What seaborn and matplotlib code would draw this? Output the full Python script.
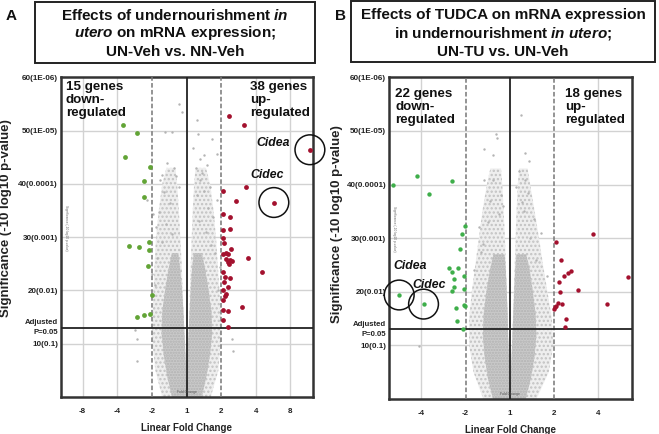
import matplotlib
matplotlib.use("Agg")
import matplotlib.pyplot as plt
import numpy as np
import pandas as pd
import seaborn as sns
from matplotlib.patches import Rectangle

# x positions are log2 fold change; tick labels show the signed linear fold change
A_TICKS = [-3, -2, -1, 0, 1, 2, 3]
A_TICK_LABELS = ["-8", "-4", "-2", "1", "2", "4", "8"]
B_TICKS = [-2, -1, 0, 1, 2]
B_TICK_LABELS = ["-4", "-2", "1", "2", "4"]
Y_TICKS = [10, 20, 30, 40, 50, 60]
Y_TICK_LABELS = ["10(0.1)", "20(0.01)", "30(0.001)", "40(0.0001)", "50(1E-05)", "60(1E-06)"]
ADJ_P = 13.01  # -10 log10(0.05)

# panel A: significant genes
A_down_fc = [-1.83, -1.42, -1.78, -1.04, -1.23, -1.23, -1.67, -1.37, -1.07, -1.07,
             -1.12, -1.01, -1.44, -1.23, -1.05]
A_down_sig = [51.0, 49.5, 45.1, 43.1, 40.6, 37.5, 28.4, 28.2, 29.0, 27.6,
              24.6, 19.1, 15.1, 15.3, 15.5]
A_up_fc = [1.23, 1.66, 3.56, 1.73, 2.52, 1.04, 1.44, 1.06, 1.25, 1.04,
           1.25, 1.04, 1.08, 1.28, 1.04, 1.13, 1.21, 1.78, 1.13, 1.25,
           1.31, 1.19, 1.23, 1.04, 2.19, 1.12, 1.25, 1.08, 1.19, 1.15,
           1.06, 1.61, 1.04, 1.19, 1.06, 1.21, 1.12, 1.04]
A_up_sig = [52.8, 51.0, 46.4, 39.5, 36.5, 38.7, 36.7, 34.4, 33.7, 31.4,
            31.5, 29.9, 28.9, 27.8, 26.8, 27.0, 26.9, 26.1, 25.9, 25.8,
            25.6, 25.3, 25.0, 23.4, 23.4, 22.6, 22.3, 21.6, 20.6, 19.4,
            18.2, 16.9, 16.4, 16.1, 14.4, 13.2, 19.0, 20.0]
A_circled = ["Cidea", "Cidec"]
A_circled_fc = [3.56, 2.52]
A_circled_sig = [46.4, 36.5]

# panel A: non-significant genes, scattered ones
A_grey_fc = [-0.21, -0.13, 0.29, -0.61, -0.41, 0.34, 0.74, 0.87, 0.50, 0.40,
             0.59, -0.35, -0.72, -0.76, 0.27, -0.23, 0.38, 0.67, 0.50, -1.15,
             0.87, -1.49, -1.42, -1.44, 1.31, 1.35, -0.96, -0.88, 0.77, -1.00,
             0.96, -0.55, -0.30, 0.18, 0.45, -0.66, 0.62, -0.48, 0.30, -0.80,
             -0.58, -0.42, -0.70, 0.55, 0.70, 0.35, -0.85, 0.82, -0.92, 0.90]
A_grey_sig = [54.9, 53.5, 51.9, 49.7, 49.8, 49.3, 48.4, 45.6, 45.5, 44.6,
              43.6, 43.0, 41.6, 40.8, 43.0, 39.4, 40.7, 39.4, 38.6, 36.9,
              36.9, 12.5, 10.9, 6.8, 10.9, 8.7, 34.3, 31.9, 33.8, 23.1,
              24.4, 44.0, 41.5, 46.8, 42.0, 38.5, 35.5, 36.5, 38.0, 34.8,
              32.5, 30.5, 29.0, 31.0, 28.5, 33.0, 26.0, 27.0, 21.0, 20.0]
# panel A: outline of the grey cloud (sig level, lobe edges)
A_core_sig = [0, 4, 8, 12, 16, 20, 24, 27]
A_core_left_out = [-0.42, -0.56, -0.66, -0.72, -0.70, -0.62, -0.52, -0.42]
A_core_left_in = [0.00, -0.01, -0.03, -0.06, -0.09, -0.13, -0.18, -0.24]
A_core_right_in = [0.00, 0.01, 0.03, 0.06, 0.09, 0.12, 0.16, 0.21]
A_core_right_out = [0.44, 0.58, 0.68, 0.74, 0.72, 0.64, 0.54, 0.44]
A_halo_sig = [0, 5, 10, 15, 20, 25, 30, 35, 40, 43]
A_halo_left_out = [-0.70, -0.90, -0.98, -0.98, -0.95, -0.92, -0.88, -0.80, -0.70, -0.58]
A_halo_left_in = [0.00, -0.02, -0.05, -0.08, -0.11, -0.14, -0.18, -0.22, -0.27, -0.32]
A_halo_right_in = [0.00, 0.02, 0.05, 0.08, 0.10, 0.12, 0.15, 0.18, 0.22, 0.26]
A_halo_right_out = [0.70, 0.92, 0.98, 0.98, 0.95, 0.90, 0.85, 0.78, 0.68, 0.56]

# panel B: significant genes
B_down_fc = [-2.63, -2.09, -1.83, -1.31, -1.01, -1.08, -1.13, -1.38, -1.18, -1.30,
             -1.04, -1.26, -1.26, -1.04, -1.31, -2.50, -1.95, -1.04, -1.22, -1.01,
             -1.20, -1.05]
B_down_sig = [39.9, 41.6, 38.2, 40.6, 32.3, 30.8, 28.0, 24.5, 24.4, 23.7,
              22.9, 22.3, 20.9, 20.6, 20.1, 19.4, 17.7, 17.6, 16.9, 17.3,
              14.6, 13.1]
B_up_fc = [1.04, 1.88, 1.16, 1.38, 1.31, 1.23, 1.11, 2.66, 1.13, 1.54,
           1.08, 1.17, 2.20, 1.02, 1.00, 1.04, 1.26, 1.24]
B_up_sig = [29.3, 30.7, 26.0, 23.9, 23.5, 22.9, 21.8, 22.7, 19.9, 20.3,
            18.0, 17.7, 17.8, 17.1, 16.7, 17.4, 14.9, 13.5]
B_circled = ["Cidea", "Cidec"]
B_circled_fc = [-2.50, -1.95]
B_circled_sig = [19.4, 17.7]

B_grey_fc = [0.25, -0.32, -0.58, -0.38, 0.35, 0.43, -0.38, -0.58, 0.35, -0.20,
             -2.05, -0.30, 0.20, -0.45, 0.40, -0.15, 0.28, -0.25, 0.55, -0.70,
             0.70, -0.60, 0.15, 0.32, -0.50, 0.45, -0.80, 0.85, 0.60, -0.65]
B_grey_sig = [53.0, 49.4, 46.6, 45.5, 45.8, 44.3, 40.9, 40.9, 40.9, 38.0,
              9.9, 48.6, 42.5, 37.0, 38.5, 36.0, 36.8, 34.5, 33.5, 32.0,
              31.0, 29.0, 39.5, 35.0, 33.0, 30.0, 24.0, 23.0, 26.0, 27.5]
B_core_sig = [0, 4, 8, 12, 16, 20, 24, 27]
B_core_left_out = [-0.38, -0.50, -0.57, -0.61, -0.59, -0.53, -0.45, -0.37]
B_core_left_in = [0.00, -0.01, -0.02, -0.04, -0.05, -0.07, -0.09, -0.12]
B_core_right_in = [0.00, 0.02, 0.04, 0.06, 0.08, 0.10, 0.12, 0.15]
B_core_right_out = [0.36, 0.48, 0.56, 0.60, 0.58, 0.52, 0.45, 0.37]
B_halo_sig = [0, 5, 10, 15, 20, 25, 30, 35, 40, 43]
B_halo_left_out = [-0.60, -0.82, -0.92, -0.92, -0.86, -0.78, -0.70, -0.62, -0.52, -0.44]
B_halo_left_in = [0.00, -0.02, -0.03, -0.05, -0.07, -0.09, -0.11, -0.14, -0.17, -0.20]
B_halo_right_in = [0.00, 0.03, 0.05, 0.07, 0.09, 0.11, 0.13, 0.15, 0.18, 0.21]
B_halo_right_out = [0.60, 0.88, 0.98, 0.95, 0.85, 0.75, 0.66, 0.56, 0.46, 0.40]

RED = "#a3112e"
GRID = "#d2d2d2"
FONT = ["Liberation Sans", "DejaVu Sans"]

sns.set_theme(style="white")
plt.rcParams["font.family"] = FONT
plt.rcParams["mathtext.fontset"] = "custom"
plt.rcParams["mathtext.bf"] = "Liberation Sans:bold"
plt.rcParams["mathtext.it"] = "Liberation Sans:italic"
plt.rcParams["mathtext.bfit"] = "Liberation Sans:bold:italic"
plt.rcParams["hatch.linewidth"] = 1.1


def draw_cloud(ax, core, halo):
    sig, l_out, l_in, r_in, r_out = halo
    for lo, hi in [(l_out, l_in), (r_in, r_out)]:
        ax.fill_betweenx(sig, lo, hi, facecolor="#eeeeee", edgecolor="#c2c2c2",
                         hatch="....", linewidth=0, zorder=1)
    sig, l_out, l_in, r_in, r_out = core
    for lo, hi in [(l_out, l_in), (r_in, r_out)]:
        ax.fill_betweenx(sig, lo, hi, facecolor="#cacaca", edgecolor="#b2b2b2",
                         hatch="......", linewidth=0, zorder=1.1)


def panel(ax, xlim, ticks, tick_labels, grid_x, core, halo, grey, down, up, green,
          dot_size, circled, counts, ylabel_xy):
    ax.set_xlim(*xlim)
    ax.set_ylim(0, 60)
    for gx in grid_x:
        ax.axvline(gx, color=GRID, lw=1.0, zorder=0)
    for gy in [10, 20, 30, 40, 50]:
        ax.axhline(gy, color=GRID, lw=1.0, zorder=0)

    draw_cloud(ax, core, halo)
    grey_df = pd.DataFrame({"fc": grey[0], "sig": grey[1]})
    sns.scatterplot(data=grey_df, x="fc", y="sig", color="#b4b4b4", s=3, linewidth=0,
                    ax=ax, zorder=2, legend=False)

    ax.axvline(0, color="#222222", lw=1.3, zorder=3)
    ax.axvline(-1, color="#777777", lw=1.1, ls=(0, (3, 1.5)), zorder=3)
    ax.axvline(1, color="#777777", lw=1.1, ls=(0, (3, 1.5)), zorder=3)
    ax.axhline(ADJ_P, color="#222222", lw=1.3, zorder=3)

    down_df = pd.DataFrame({"fc": down[0], "sig": down[1]})
    up_df = pd.DataFrame({"fc": up[0], "sig": up[1]})
    sns.scatterplot(data=down_df, x="fc", y="sig", color=green, s=dot_size, linewidth=0,
                    ax=ax, zorder=4, legend=False, clip_on=False)
    sns.scatterplot(data=up_df, x="fc", y="sig", color=RED, s=dot_size, linewidth=0,
                    ax=ax, zorder=4, legend=False, clip_on=False)

    names, cfc, csig, label_pos = circled
    ax.scatter(cfc, csig, s=460, facecolors="none", edgecolors="#111111",
               linewidths=1.1, zorder=5, clip_on=False)
    for name, (lx, ly) in zip(names, label_pos):
        ax.text(lx, ly, name, fontsize=8.8, fontweight="bold", fontstyle="italic",
                ha="left", va="center", color="#111111", zorder=6)

    for txt, (tx, ty) in counts:
        ax.text(tx, ty, txt, fontsize=9.6, fontweight="bold", ha="left", va="top",
                color="#111111", linespacing=1.12, zorder=6)

    ax.set_xticks(ticks)
    ax.set_xticklabels(tick_labels, fontsize=5.8, fontweight="bold", color="#222222")
    ax.set_yticks(Y_TICKS)
    ax.set_yticklabels(Y_TICK_LABELS, fontsize=5.8, fontweight="bold", color="#222222")
    ax.tick_params(axis="x", length=0, pad=8)
    ax.tick_params(axis="y", length=0, pad=2)
    ax.text(-0.012, ADJ_P, "Adjusted\nP=0.05", transform=ax.get_yaxis_transform(),
            ha="right", va="center", fontsize=5.6, fontweight="bold", color="#222222",
            linespacing=1.5)
    ax.set_xlabel("Linear Fold Change", fontsize=7, fontweight="bold", color="#222222",
                  labelpad=6)
    ax.set_ylabel("Significance (-10 log10 p-value)", fontsize=9.5, fontweight="bold",
                  color="#222222")
    ax.yaxis.set_label_coords(*ylabel_xy)
    ax.text(0, 0.5, "Fold Change", fontsize=2.5, ha="center", va="bottom", color="#555555",
            zorder=6)
    ax.text(0.02, 0.53, "Significance (-10 log10 p-value)", transform=ax.transAxes,
            fontsize=2.3, rotation=-90, ha="center", va="center", color="#666666")
    for sp in ax.spines.values():
        sp.set_color("#333333")
        sp.set_linewidth(1.8)
        sp.set_visible(True)


fig = plt.figure(figsize=(6.59, 4.34), dpi=100)
axA = fig.add_axes([0.0921, 0.0853, 0.3829, 0.7366])
axB = fig.add_axes([0.5903, 0.0806, 0.3687, 0.7413])

panel(axA, (-3.63, 3.65), A_TICKS, A_TICK_LABELS, [-3, -2, 2, 3],
      (A_core_sig, A_core_left_out, A_core_left_in, A_core_right_in, A_core_right_out),
      (A_halo_sig, A_halo_left_out, A_halo_left_in, A_halo_right_in, A_halo_right_out),
      (A_grey_fc, A_grey_sig), (A_down_fc, A_down_sig), (A_up_fc, A_up_sig), "#62a436", 12,
      (A_circled, A_circled_fc, A_circled_sig, [(2.02, 47.7), (1.83, 41.6)]),
      [("15 genes\ndown-\nregulated", (-3.48, 59.3)), ("38 genes\nup-\nregulated", (1.83, 59.3))],
      (-0.192, 0.561))

panel(axB, (-2.73, 2.76), B_TICKS, B_TICK_LABELS, [-2, 2],
      (B_core_sig, B_core_left_out, B_core_left_in, B_core_right_in, B_core_right_out),
      (B_halo_sig, B_halo_left_out, B_halo_left_in, B_halo_right_in, B_halo_right_out),
      (B_grey_fc, B_grey_sig), (B_down_fc, B_down_sig), (B_up_fc, B_up_sig), "#3eae4a", 10,
      (B_circled, B_circled_fc, B_circled_sig, [(-2.63, 24.8), (-2.21, 21.2)]),
      [("22 genes\ndown-\nregulated", (-2.59, 58.0)), ("18 genes\nup-\nregulated", (1.24, 58.0))],
      (-0.188, 0.544))

# header boxes
W, H = 659.0, 434.0
for x0, y0, x1, y1 in [(35, 1.5, 315, 63), (351, 1.5, 655, 62)]:
    fig.patches.append(Rectangle((x0 / W, 1 - y1 / H), (x1 - x0) / W, (y1 - y0) / H,
                                 transform=fig.transFigure, fill=False,
                                 edgecolor="#222222", linewidth=1.4))
A_title = [r"Effects of undernourishment $\bfit{in}$",
           r"$\bfit{utero}$ on mRNA expression;",
           "UN-Veh vs. NN-Veh"]
B_title = ["Effects of TUDCA on mRNA expression",
           r"in undernourishment $\bfit{in\ utero}$;",
           "UN-TU vs. UN-Veh"]
for cx, lines in [(175, A_title), (503, B_title)]:
    for line, cy in zip(lines, [15.5, 33.5, 51.5]):
        fig.text(cx / W, 1 - cy / H, line, ha="center", va="center", fontsize=11,
                 fontweight="bold", color="#111111")
fig.text(11.5 / W, 1 - 16.5 / H, "A", ha="center", va="center", fontsize=11,
         fontweight="bold", color="#111111")
fig.text(341 / W, 1 - 16.5 / H, "B", ha="center", va="center", fontsize=11,
         fontweight="bold", color="#111111")

fig.savefig("out.png", dpi=100)
